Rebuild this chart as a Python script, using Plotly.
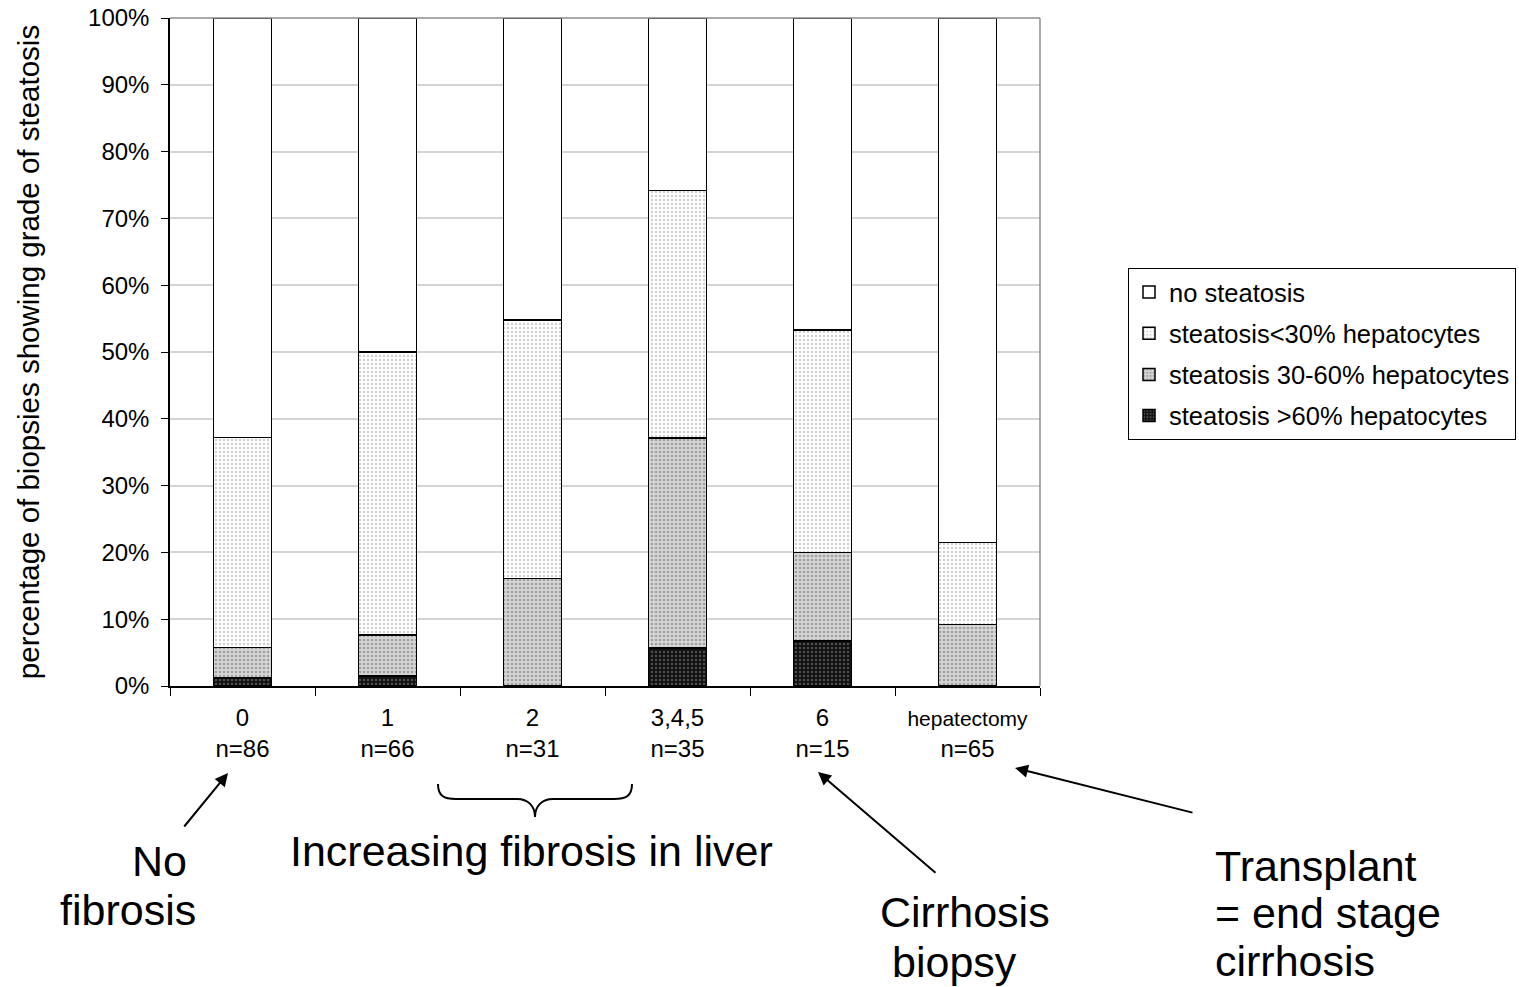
import plotly.graph_objects as go

# ---------------- data ----------------
categories = ["0", "1", "2", "3,4,5", "6", "hepatectomy"]
n_values = [86, 66, 31, 35, 15, 65]
steatosis_gt60 = [1.2, 1.5, 0.0, 5.7, 6.7, 0.0]
steatosis_30_60 = [4.6, 6.1, 16.1, 31.4, 13.3, 9.2]
steatosis_lt30 = [31.4, 42.4, 38.7, 37.1, 33.3, 12.3]
no_steatosis = [62.8, 50.0, 45.2, 25.8, 46.7, 78.5]
y_ticks = [0, 10, 20, 30, 40, 50, 60, 70, 80, 90, 100]
y_tick_labels = [f"{v}%" for v in y_ticks]

FONT = "Liberation Sans, Arial, sans-serif"
W, H = 1519, 987
L, R, T, B = 170, 1040, 18, 686  # plot area in pixels


def px(x):
    return (x - L) / (R - L)


def py(y):
    return (B - y) / (B - T)


tick_text = []
for c, n in zip(categories, n_values):
    if c == "hepatectomy":
        tick_text.append(f"<span style='font-size:21px'>{c}</span><br>n={n}")
    else:
        tick_text.append(f"{c}<br>n={n}")

fig = go.Figure()

# bottom of stack first; legend rank puts "no steatosis" on top
series = [
    ("steatosis >60% hepatocytes", steatosis_gt60, 4,
     dict(color="#1a1a1a", pattern=dict(shape=".", bgcolor="#111111", fgcolor="#8a8a8a", size=4, solidity=0.3))),
    ("steatosis 30-60% hepatocytes", steatosis_30_60, 3,
     dict(color="#cfcfcf", pattern=dict(shape=".", bgcolor="#d6d6d6", fgcolor="#6a6a6a", size=4, solidity=0.35))),
    ("steatosis<30% hepatocytes", steatosis_lt30, 2,
     dict(color="#f2f2f2", pattern=dict(shape=".", bgcolor="#ffffff", fgcolor="#a0a0a0", size=4, solidity=0.3))),
    ("no steatosis", no_steatosis, 1, dict(color="#ffffff")),
]

for name, vals, rank, mk in series:
    mk = dict(mk)
    mk["line"] = dict(color="#000000", width=1.5)
    fig.add_trace(go.Bar(
        x=categories, y=vals, name=name, marker=mk, width=0.4,
        legendgroup=name, legendrank=rank,
    ))

fig.update_layout(
    width=W, height=H,
    barmode="stack",
    paper_bgcolor="white", plot_bgcolor="white",
    margin=dict(l=L, r=W - R, t=T, b=H - B, autoexpand=False),
    font=dict(family=FONT, size=24, color="#000000"),
    showlegend=True,
    legend=dict(
        x=px(1128), y=py(268), xanchor="left", yanchor="top",
        traceorder="grouped", tracegroupgap=5,
        bordercolor="#000000", borderwidth=1, bgcolor="white",
        font=dict(family=FONT, size=25.5, color="#000000"),
    ),
    xaxis=dict(
        tickmode="array", tickvals=categories, ticktext=tick_text,
        tickson="boundaries", ticks="outside", ticklen=8, tickcolor="#000000",
        showline=True, linecolor="#000000", linewidth=1.5,
        showgrid=False, tickfont=dict(size=24), ticklabelstandoff=9,
        range=[-0.5, 5.5],
    ),
    yaxis=dict(
        range=[0, 100], tickmode="array", tickvals=y_ticks, ticktext=y_tick_labels,
        ticks="outside", ticklen=7, tickcolor="#000000",
        showline=True, linecolor="#000000", linewidth=1.5,
        showgrid=True, gridcolor="#d4d4d4", gridwidth=1.5,
        zeroline=False, tickfont=dict(size=24), ticklabelstandoff=7,
        title=dict(text="percentage of biopsies showing grade of steatosis",
                   font=dict(size=29.5), standoff=40),
    ),
)

# plot-area border (top and right)
fig.add_shape(type="line", xref="paper", yref="paper", x0=1, x1=1, y0=0, y1=1,
              line=dict(color="#8c8c8c", width=1.5))
fig.add_shape(type="line", xref="paper", yref="paper", x0=0, x1=1, y0=1, y1=1,
              line=dict(color="#8c8c8c", width=1.5))

# brace under categories 2 and 3,4,5
def P(x, y):
    return f"{px(x):.5f},{py(y):.5f}"

brace = (f"M{P(438,784)} C{P(438,796)} {P(444,799)} {P(456,799)} "
         f"L{P(517,799)} C{P(528,799)} {P(535,806)} {P(535,817)} "
         f"C{P(535,806)} {P(542,799)} {P(553,799)} "
         f"L{P(614,799)} C{P(626,799)} {P(632,796)} {P(632,784)}")
fig.add_shape(type="path", xref="paper", yref="paper", path=brace,
              line=dict(color="#000000", width=2))

# big annotation texts
big = 43
texts = [
    ("No", 159, 861, "center"),
    ("fibrosis", 128, 910, "center"),
    ("Increasing fibrosis in liver", 531, 851, "center"),
    ("Cirrhosis", 965, 912, "center"),
    ("biopsy", 954, 962, "center"),
    ("Transplant", 1213, 866, "left"),
    ("= end stage", 1213, 913, "left"),
    ("cirrhosis", 1213, 961, "left"),
]
for t, x, y, anc in texts:
    fig.add_annotation(text=t, xref="paper", yref="paper", x=px(x), y=py(y),
                       xanchor=anc, yanchor="middle", showarrow=False,
                       font=dict(family=FONT, size=big, color="#000000"))

# arrows: (head x, head y, tail x, tail y)
arrows = [
    (228, 773, 183, 828),
    (818, 772, 937, 874),
    (1015, 768, 1194, 813),
]
for hx, hy, tx, ty in arrows:
    fig.add_annotation(text="", xref="paper", yref="paper", x=px(hx), y=py(hy),
                       ax=tx - hx, ay=ty - hy, showarrow=True,
                       arrowhead=2, arrowsize=1.3, arrowwidth=2, arrowcolor="#000000")

fig.write_html("out.html")
